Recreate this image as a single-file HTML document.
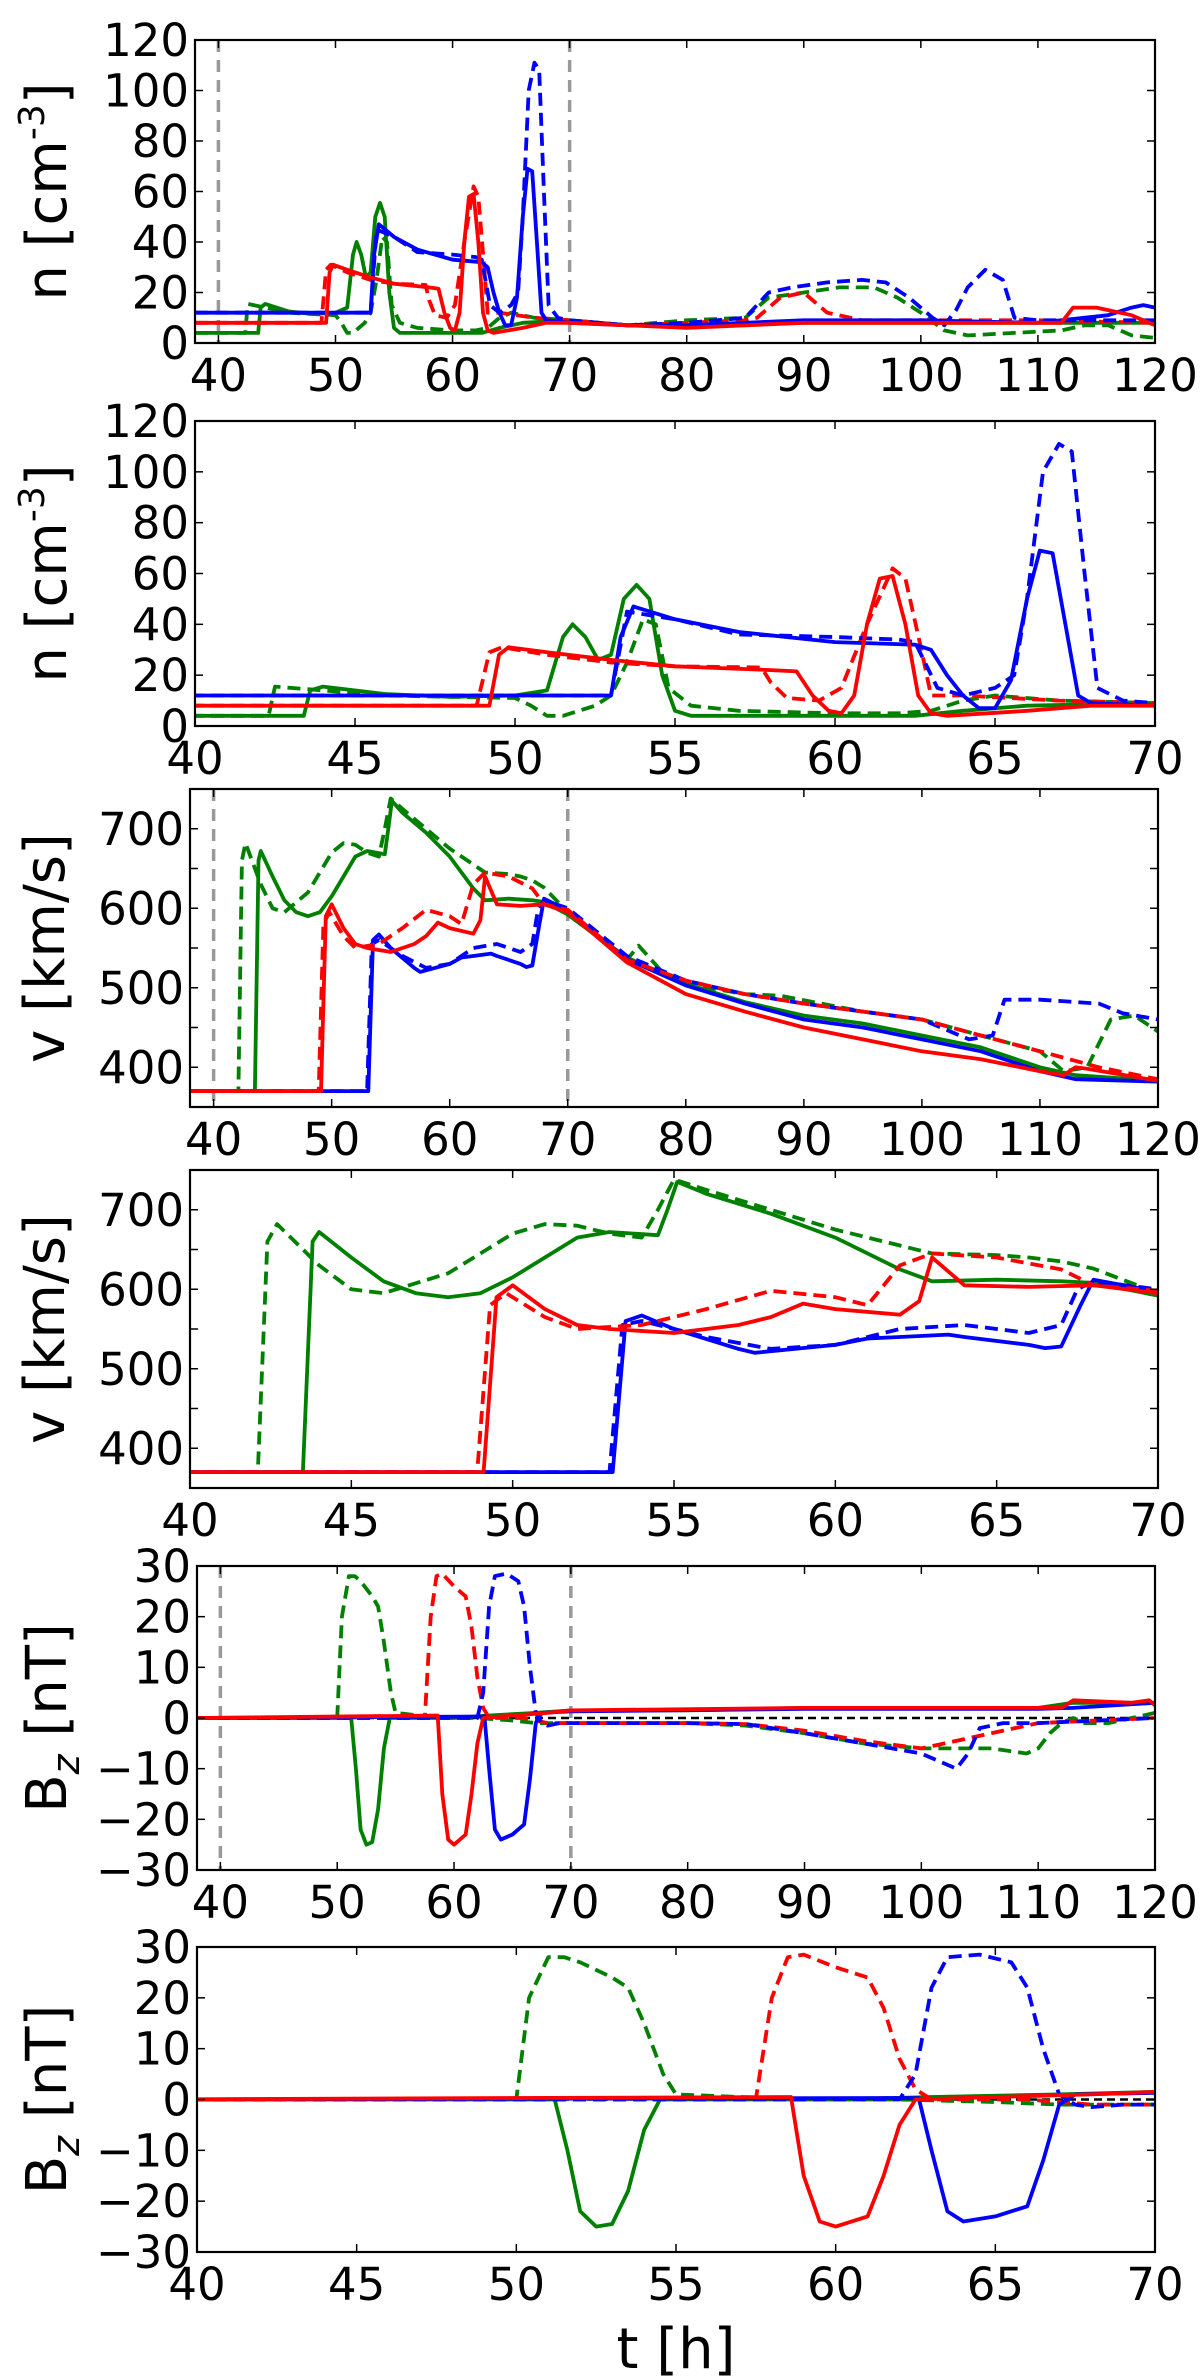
<!DOCTYPE html>
<html><head><meta charset="utf-8"><style>
html,body{margin:0;padding:0;background:#fff;}
svg{display:block;font-family:"DejaVu Sans","Liberation Sans",sans-serif;}
</style></head><body>
<svg id="fig" width="1200" height="2379" viewBox="0 0 1200 2379" xmlns="http://www.w3.org/2000/svg"></svg>
<script>
// ---------- DATA: density n [cm^-3] ----------
const nGreenSolidT = [38,43.4,43.6,44,46,48,50,51,51.5,51.8,52.2,52.6,53,53.4,53.8,54.2,54.6,55,55.5,60,62.5,64,66,70,75,80,90,100,110,120];
const nGreenSolidV = [4,4,14,15.5,12.5,11.5,12,14,35,40,35,26,28,50,55.5,50,20,6,4,4,4,6,8,9,7,7,8,8,8,8];
const nGreenDashT = [38,42.3,42.5,44,46,48,50,50.5,51,51.5,52.5,53,53.5,54,54.4,54.8,55.5,57,60,62,63,64,65,67,70,75,80,85,87,90,93,96,98,100,102,104,108,112,114,116,118,120];
const nGreenDashV = [4,4,15.5,14,12,11.5,11,8,4,4,8,12,25,42,40,15,8,6,5,5,6,10,12,10,9,7,9,10,18,20,22,22,18,12,5,3,4,5,7,7,3,2];
const nRedSolidT = [38,49.2,49.5,49.8,51,53,55,58,58.8,59.3,59.8,60.2,60.6,61,61.4,61.8,62.2,62.6,63,63.5,66,68,70,75,80,85,90,100,110,112,113,115,118,120];
const nRedSolidV = [8,8,28,31,29,26,23.5,22,21.5,12,6,5,12,40,58,59,40,12,5,4,6,8,8,7,6,7,8,8,8,8,14,14,11,7];
const nRedDashT = [38,48.8,49.2,49.6,51,53,55,57.7,58,58.5,59.5,60.2,61,61.8,62.2,62.7,63,64,67,70,75,80,85,86,88,90,92,95,110,120];
const nRedDashV = [8,8,29,31,28,25,23.5,23,17,11,10,15,40,62,58,30,12,12,10,9,7,8,9,10,18,20,12,9,9,8];
const nBlueSolidT = [38,53,53.3,53.7,55,57,60,62.5,63,63.5,64,64.5,65,65.5,66,66.4,66.8,67.2,67.6,68,70,75,80,90,100,110,112,116,118,119,120];
const nBlueSolidV = [12,12,35,47,42,37,33,32,30,20,12,7,7,18,50,69,68,40,12,9,8,7,7,9,9,8,9,11,14,15,14];
const nBlueDashT = [38,53,53.5,55,57,60,62,62.5,63.2,64,65,65.6,66,66.5,67,67.4,67.8,68.2,69,70,75,80,85,87,89,92,95,97,99,101,102,103,104,105.5,107,108,110,120];
const nBlueDashV = [12,12,45,42,36,35,34,33,15,12,15,20,50,100,111,108,60,15,10,9,7,8,10,20,22,24,25,24,18,10,7,13,22,29,25,10,9,9];

// ---------- DATA: velocity v [km/s] ----------
const vGreenSolidT = [38,43.5,43.8,44,45,46,47,48,49,50,51,52,53,54.5,54.8,55.1,56,58,60,62,63,65,67,68,70,72,75,80,85,90,95,100,105,110,113,120];
const vGreenSolidV = [370,370,660,672,640,610,595,590,595,615,640,665,672,668,700,735,720,695,665,625,610,612,610,608,592,570,538,505,482,465,455,440,425,400,390,383];
const vGreenDashT = [38,42.1,42.4,42.7,44,45,46,48,50,51,52,53,54,54.5,55,56,58,60,62,63,65,66,67,68,70,73,75,76,78,80,85,88,95,100,105,110,112,114,116,118,120];
const vGreenDashV = [370,370,660,682,630,600,595,620,670,682,680,670,665,700,738,725,700,675,655,645,643,640,635,626,595,560,535,553,520,505,492,490,470,460,440,420,395,400,460,465,445];
const vRedSolidT = [38,49.1,49.5,50,51,52,53,55,57,58,59,60,62,62.6,63,64,66,68,70,72,75,80,85,90,95,100,105,110,112,113,114,120];
const vRedSolidV = [370,370,590,605,575,555,550,545,555,565,582,575,568,585,640,605,603,605,595,570,532,492,470,450,435,420,410,395,390,400,398,383];
const vRedDashT = [38,48.9,49.3,49.8,51,52,54,56,58,60,61,62,63,65,67,68,70,75,80,85,90,95,100,105,110,115,120];
const vRedDashV = [370,370,580,595,565,550,555,575,598,590,580,630,645,640,625,605,598,535,509,492,480,470,460,440,420,400,385];
const vBlueSolidT = [38,53.1,53.5,54,55,57,57.5,60,61,62,63.5,64,66,66.5,67,67.6,68,70,72,75,80,85,90,95,100,105,110,113,120];
const vBlueSolidV = [370,370,560,567,550,525,520,530,538,540,543,540,530,526,528,580,612,597,572,536,503,480,460,450,435,420,395,385,382];
const vBlueDashT = [38,53,53.4,54,56,58,60,62,64,66,67,67.5,68,70,75,80,85,90,95,100,104,106,107,110,115,117,120];
const vBlueDashV = [370,370,555,560,540,525,530,550,555,545,555,600,610,600,540,509,492,480,470,460,435,440,485,485,480,468,460];

// ---------- DATA: magnetic field Bz [nT] ----------
const bGreenSolidT = [38,51.2,51.6,52,52.5,53,53.5,54,54.5,60,63,67,70,80,90,110,113,118,120];
const bGreenSolidV = [0,0,-10,-22,-25,-24.5,-18,-6,0,0,0.5,1,1.5,1.5,2,2,3,3,3];
const bGreenDashT = [38,50,50.4,51,51.5,52,53,53.5,54,54.6,55,57,60,62,65,67,70,80,85,90,95,100,103,106,109,110,111,112,113,114,116,118,120];
const bGreenDashV = [0,0,20,28,28,27,24,22,15,5,1,0.5,0,0,-0.5,-1,-1,-1,-1.5,-3,-5,-6,-6,-6,-7,-6,-3,-1,0,-1,-1,0,1];
const bRedSolidT = [38,58.6,59,59.5,60,61,61.5,62,62.5,65,68,70,90,110,112,113,118,119.5,120];
const bRedSolidV = [0,0.5,-15,-24,-25,-23,-15,-5,0,0.5,1,1.5,2,2,2,3.5,3,3.5,2.5];
const bRedDashT = [38,57.5,58,58.5,59,60,61,61.5,62,62.5,63,66,67,68,70,80,85,90,95,100,110,120];
const bRedDashV = [0,0,20,28,28.5,26,24,18,8,2,0,0,-0.5,-1,-1,-1,-1.2,-2.5,-4.5,-6,-1,0];
const bBlueSolidT = [38,62.6,63,63.5,64,65,66,66.5,67,67.5,70,90,110,113,120];
const bBlueSolidV = [0,0.3,-10,-22,-24,-23,-21,-12,-1,1,1.3,1.8,1.8,2,3];
const bBlueDashT = [38,62,62.5,63,63.5,64.5,65.5,66,66.5,67,67.5,68,69,70,80,85,90,95,100,103,104,105,107,110,120];
const bBlueDashV = [0,0,5,22,28,28.5,27,22,10,1,-1,-1.5,-1,-1,-1,-1.2,-3,-5,-7,-10,-7,-2,-1,-1,0];

const xTicksFull = [40,50,60,70,80,90,100,110,120];
const xTicksZoom = [40,45,50,55,60,65,70];
const nTicks = [0,20,40,60,80,100,120];
const vTicks = [400,500,600,700];
const vMinor = [400,450,500,550,600,650,700];
const bTicks = [-30,-20,-10,0,10,20,30];

const GREEN='#008000', RED='#ff0000', BLUE='#0000ff';
const NS='http://www.w3.org/2000/svg';
const svg=document.getElementById('fig');
function mk(tag,attrs,parent){const e=document.createElementNS(NS,tag);for(const k in attrs)e.setAttribute(k,attrs[k]);(parent||svg).appendChild(e);return e;}

const panels=[
 {id:'n-full',L:195,R:1155,T:40,B:343,x0:38,x1:120,y0:0,y1:120,xt:xTicksFull,yt:nTicks,ym:nTicks,kind:'n',vlines:true},
 {id:'n-zoom',L:195,R:1155,T:421,B:726,x0:40,x1:70,y0:0,y1:120,xt:xTicksZoom,yt:nTicks,ym:nTicks,kind:'n',vlines:false},
 {id:'v-full',L:190,R:1158,T:789,B:1107,x0:38,x1:120,y0:350,y1:750,xt:xTicksFull,yt:vTicks,ym:vMinor,kind:'v',vlines:true},
 {id:'v-zoom',L:190,R:1158,T:1170,B:1488,x0:40,x1:70,y0:350,y1:750,xt:xTicksZoom,yt:vTicks,ym:vMinor,kind:'v',vlines:false},
 {id:'bz-full',L:197,R:1155,T:1566,B:1870,x0:38,x1:120,y0:-30,y1:30,xt:xTicksFull,yt:bTicks,ym:bTicks,kind:'b',vlines:true},
 {id:'bz-zoom',L:197,R:1155,T:1947,B:2252,x0:40,x1:70,y0:-30,y1:30,xt:xTicksZoom,yt:bTicks,ym:bTicks,kind:'b',vlines:false}
];
const seriesByKind={
 n:[[nGreenDashT,nGreenDashV,GREEN,true,'green-dashed'],[nGreenSolidT,nGreenSolidV,GREEN,false,'green-solid'],[nRedDashT,nRedDashV,RED,true,'red-dashed'],[nBlueDashT,nBlueDashV,BLUE,true,'blue-dashed'],[nBlueSolidT,nBlueSolidV,BLUE,false,'blue-solid'],[nRedSolidT,nRedSolidV,RED,false,'red-solid']],
 v:[[vGreenDashT,vGreenDashV,GREEN,true,'green-dashed'],[vGreenSolidT,vGreenSolidV,GREEN,false,'green-solid'],[vBlueDashT,vBlueDashV,BLUE,true,'blue-dashed'],[vBlueSolidT,vBlueSolidV,BLUE,false,'blue-solid'],[vRedDashT,vRedDashV,RED,true,'red-dashed'],[vRedSolidT,vRedSolidV,RED,false,'red-solid']],
 b:[[bGreenDashT,bGreenDashV,GREEN,true,'green-dashed'],[bGreenSolidT,bGreenSolidV,GREEN,false,'green-solid'],[bRedDashT,bRedDashV,RED,true,'red-dashed'],[bBlueDashT,bBlueDashV,BLUE,true,'blue-dashed'],[bBlueSolidT,bBlueSolidV,BLUE,false,'blue-solid'],[bRedSolidT,bRedSolidV,RED,false,'red-solid']]
};

panels.forEach((p,i)=>{
  const sx=t=>p.L+(t-p.x0)/(p.x1-p.x0)*(p.R-p.L);
  const sy=v=>p.B-(v-p.y0)/(p.y1-p.y0)*(p.B-p.T);
  const g=mk('g',{});
  
  
  const cp=mk('clipPath',{id:'clip'+i},g);
  mk('rect',{x:p.L,y:p.T,width:p.R-p.L,height:p.B-p.T},cp);
  const plot=mk('g',{'clip-path':'url(#clip'+i+')'},g);
  if(p.kind==='b'){
    const z=mk('line',{x1:p.L,x2:p.R,y1:sy(0),y2:sy(0),stroke:'#000','stroke-width':2.5,'stroke-dasharray':'8,5'},plot);
    
    
  }
  if(p.vlines){
    [40,70].forEach(t=>{
      const l=mk('line',{x1:sx(t),x2:sx(t),y1:p.T,y2:p.B,stroke:'#999','stroke-width':3.5,'stroke-dasharray':'12,8'},plot);
      
      
    });
  }
  seriesByKind[p.kind].forEach(s=>{
    const [T,V,col,dash,name]=s;
    let d='';T.forEach((t,k)=>{d+=(k?'L':'M')+sx(t).toFixed(1)+','+sy(V[k]).toFixed(1);});
    const a={d:d,fill:'none',stroke:col,'stroke-width':3.8,'stroke-linejoin':'round'};
    if(dash)a['stroke-dasharray']='13,7';
    const path=mk('path',a,plot);
    
    
  });
  const fr=mk('rect',{x:p.L,y:p.T,width:p.R-p.L,height:p.B-p.T,fill:'none',stroke:'#000','stroke-width':2.2},g);
  
  
  p.xt.forEach(t=>{
    const x=sx(t);
    mk('line',{x1:x,x2:x,y1:p.B,y2:p.B-8,stroke:'#000','stroke-width':1.5},g);
    mk('line',{x1:x,x2:x,y1:p.T,y2:p.T+8,stroke:'#000','stroke-width':1.5},g);
    const tx=mk('text',{x:x,y:p.B+48,'font-size':45,'text-anchor':'middle',fill:'#000'},g);
    tx.textContent=t;
    
    
  });
  p.ym.forEach(v=>{
    const y=sy(v);
    mk('line',{x1:p.L,x2:p.L+8,y1:y,y2:y,stroke:'#000','stroke-width':1.5},g);
    mk('line',{x1:p.R,x2:p.R-8,y1:y,y2:y,stroke:'#000','stroke-width':1.5},g);
  });
  p.yt.forEach(v=>{
    const y=sy(v);
    const tx=mk('text',{x:p.L-6,y:y+16,'font-size':45,'text-anchor':'end',fill:'#000'},g);
    tx.textContent=(v<0?'\u2212'+(-v):v);
    
    
  });
  const cy=(p.T+p.B)/2;
  const yl=mk('text',{x:0,y:0,'font-size':56,'text-anchor':'middle',fill:'#000',transform:'translate('+(p.kind==='v'?64:66)+','+cy+') rotate(-90)'},g);
  
  
  if(p.kind==='n'){
    yl.appendChild(document.createTextNode('n [cm'));
    const sup=mk('tspan',{'font-size':36,dy:-22},yl);sup.textContent='-3';
    const rest=mk('tspan',{dy:22},yl);rest.textContent=']';
  } else if(p.kind==='v'){
    yl.textContent='v [km/s]';
  } else {
    yl.appendChild(document.createTextNode('B'));
    const sub=mk('tspan',{'font-size':38,dy:13,'font-style':'italic'},yl);sub.textContent='z';
    const rest=mk('tspan',{dy:-13},yl);rest.textContent='  [nT]';
  }
});
const xl=mk('text',{x:676,y:2368,'font-size':56,'text-anchor':'middle',fill:'#000'});
xl.textContent='t [h]';


</script>
</body></html>
